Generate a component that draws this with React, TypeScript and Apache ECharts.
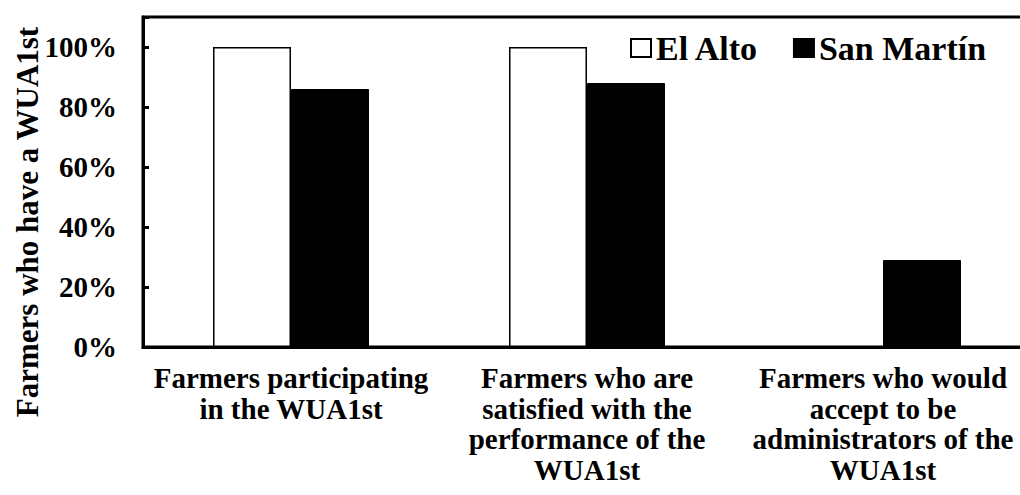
import React, { useEffect, useRef } from "react";
import * as echarts from "echarts";

const categories = [
  "Farmers participating\nin the WUA1st",
  "Farmers who are\nsatisfied with the\nperformance of the\nWUA1st",
  "Farmers who would\naccept to be\nadministrators of the\nWUA1st",
];
const elAlto = [100, 100, 0];
const sanMartin = [86, 88, 29];
const seriesNames = ["El Alto", "San Martín"];
const yAxisTitle = "Farmers who have a WUA1st";

const FONT = "'Liberation Serif', 'DejaVu Serif', Tinos, 'Times New Roman', Times, serif";

export default function App() {
  const ref = useRef<HTMLDivElement>(null);
  useEffect(() => {
    if (!ref.current) return;
    const chart = echarts.init(ref.current, undefined, { renderer: "svg" });
    chart.setOption({
      animation: false,
      backgroundColor: "#fff",
      textStyle: { fontFamily: FONT, fontWeight: "bold", color: "#000" },
      grid: {
        left: 143,
        width: 888,
        top: 17,
        bottom: 148,
        outerBoundsMode: "none",
        containLabel: false,
        show: true,
        borderColor: "#000",
        borderWidth: 3,
        backgroundColor: "transparent",
      },
      legend: {
        left: 625,
        top: 26,
        icon: "rect",
        itemWidth: 20,
        itemHeight: 18,
        itemGap: 34,
        data: seriesNames,
        textStyle: { fontFamily: FONT, fontWeight: "bold", fontSize: 34, color: "#000" },
      },
      graphic: [
        {
          type: "text",
          x: 27,
          y: 222,
          rotation: Math.PI / 2,
          style: {
            text: yAxisTitle,
            fontFamily: FONT,
            fontWeight: "bold",
            fontSize: 31,
            fill: "#000",
            textAlign: "center",
            textVerticalAlign: "middle",
          },
        },
      ],
      xAxis: {
        type: "category",
        data: categories,
        axisLine: { lineStyle: { color: "#000", width: 3 } },
        axisTick: { inside: true, length: 6, lineStyle: { color: "#000", width: 3 } },
        axisLabel: {
          interval: 0,
          margin: 16,
          fontFamily: FONT,
          fontWeight: "bold",
          fontSize: 29,
          lineHeight: 30.5,
          color: "#000",
        },
      },
      yAxis: {
        type: "value",
        min: 0,
        max: 110,
        interval: 20,
        axisLine: { show: true, lineStyle: { color: "#000", width: 3 } },
        axisTick: { show: true, inside: true, length: 6, lineStyle: { color: "#000", width: 3 } },
        splitLine: { show: false },
        axisLabel: {
          margin: 26,
          fontFamily: FONT,
          fontWeight: "bold",
          fontSize: 29,
          color: "#000",
          formatter: (v: number) => (v > 100 ? "" : v + "%"),
        },
      },
      series: [
        {
          name: seriesNames[0],
          type: "bar",
          data: elAlto,
          barWidth: 78,
          barGap: "0%",
          itemStyle: { color: "#fff", borderColor: "#000", borderWidth: 1.5 },
        },
        {
          name: seriesNames[1],
          type: "bar",
          data: sanMartin,
          barWidth: 78,
          barGap: "0%",
          itemStyle: { color: "#000", borderColor: "#000", borderWidth: 1 },
        },
      ],
    });
    return () => chart.dispose();
  }, []);
  return (
    <div
      ref={ref}
      style={{ position: "absolute", left: 0, top: 0, width: 1020, height: 495 }}
    />
  );
}
